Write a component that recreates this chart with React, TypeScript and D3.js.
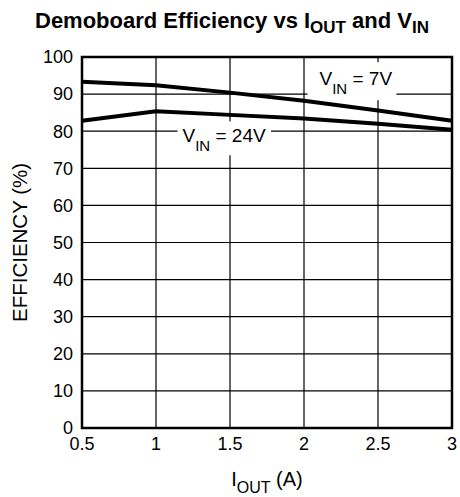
import { useEffect, useRef } from "react";
import * as d3 from "d3";

interface Point {
  iout: number
  eff: number
}

const ioutValues = [0.5, 1, 1.5, 2, 2.5, 3]
const eff7V = [93.3, 92.4, 90.4, 88.2, 85.6, 82.8]
const eff24V = [82.8, 85.4, 84.4, 83.4, 82.0, 80.4]
const xTicks = [0.5, 1, 1.5, 2, 2.5, 3]
const yTicks = [0, 10, 20, 30, 40, 50, 60, 70, 80, 90, 100]

// label anchors in data coordinates
const label7V = { x: 2.35, y: 92.4 }
const label24V = { x: 1.46, y: 77 }

const font = "'Liberation Sans', Arial, Helvetica, sans-serif"

export default function App() {
  const svgRef = useRef<SVGSVGElement>(null);

  useEffect(() => {
    const width = 460
    const height = 497
    const margin = { top: 57, right: 8, bottom: 69, left: 82 }
    const w = width - margin.left - margin.right
    const h = height - margin.top - margin.bottom

    const svg = d3.select(svgRef.current)
      .attr("width", width)
      .attr("height", height)
      .html(null)

    svg.append("rect").attr("width", width).attr("height", height).attr("fill", "#fff")

    svg.append("text")
      .attr("x", 232)
      .attr("y", 28)
      .attr("text-anchor", "middle")
      .style("font-family", font)
      .style("font-weight", "bold")
      .style("font-size", "22px")
      .call(t => {
        t.append("tspan").text("Demoboard Efficiency vs I")
        t.append("tspan").attr("dy", 5).style("font-size", "17px").text("OUT")
        t.append("tspan").attr("dy", -5).text(" and V")
        t.append("tspan").attr("dy", 5).style("font-size", "17px").text("IN")
      })

    const g = svg.append("g").attr("transform", `translate(${margin.left},${margin.top})`)

    const x = d3.scaleLinear().domain([0.5, 3]).range([0, w])
    const y = d3.scaleLinear().domain([0, 100]).range([h, 0])

    // grid
    g.append("g")
      .selectAll("line")
      .data(yTicks.slice(1, -1))
      .join("line")
      .attr("x1", 0).attr("x2", w)
      .attr("y1", d => y(d)).attr("y2", d => y(d))
      .attr("stroke", "#000").attr("stroke-width", 1.2)

    g.append("g")
      .selectAll("line")
      .data(xTicks.slice(1, -1))
      .join("line")
      .attr("y1", 0).attr("y2", h)
      .attr("x1", d => x(d)).attr("x2", d => x(d))
      .attr("stroke", "#000").attr("stroke-width", 1.2)

    // annotation boxes + text
    const addLabel = (pos: { x: number, y: number }, value: string, padL: number, padR: number, top: number, bottom: number) => {
      const box = g.append("rect").attr("fill", "#fff")
      const t = g.append("text")
        .attr("x", x(pos.x))
        .attr("y", y(pos.y))
        .attr("text-anchor", "middle")
        .style("font-family", font)
        .style("font-size", "19px")
      t.append("tspan").text("V")
      t.append("tspan").attr("dy", 9).style("font-size", "15px").text("IN")
      t.append("tspan").attr("dy", -9).text(` = ${value}`)
      const bb = (t.node() as SVGTextElement).getBBox()
      box.attr("x", bb.x - padL)
        .attr("width", bb.width + padL + padR)
        .attr("y", y(pos.y) - top)
        .attr("height", top + bottom)
    }
    addLabel(label7V, "7V", 12, 4, 23, 15)
    addLabel(label24V, "24V", 5, 5, 21, 13)

    const line = d3.line<Point>()
      .x(d => x(d.iout))
      .y(d => y(d.eff))

    const series = [eff7V, eff24V].map(vals => ioutValues.map((iout, i) => ({ iout, eff: vals[i] })))
    series.forEach(s => {
      g.append("path")
        .datum(s)
        .attr("fill", "none")
        .attr("stroke", "#000")
        .attr("stroke-width", 4)
        .attr("d", line)
    })

    // frame
    g.append("rect")
      .attr("width", w).attr("height", h)
      .attr("fill", "none")
      .attr("stroke", "#000")
      .attr("stroke-width", 2.5)

    // tick labels
    g.append("g")
      .selectAll("text")
      .data(yTicks)
      .join("text")
      .attr("x", -9)
      .attr("y", d => y(d))
      .attr("dy", "0.35em")
      .attr("text-anchor", "end")
      .style("font-family", font)
      .style("font-size", "18px")
      .text(d => d)

    g.append("g")
      .selectAll("text")
      .data(xTicks)
      .join("text")
      .attr("x", d => x(d))
      .attr("y", h + 22)
      .attr("text-anchor", "middle")
      .style("font-family", font)
      .style("font-size", "18px")
      .text(d => d)

    // axis titles
    svg.append("text")
      .attr("x", margin.left + w / 2)
      .attr("y", 486)
      .attr("text-anchor", "middle")
      .style("font-family", font)
      .style("font-size", "20px")
      .call(t => {
        t.append("tspan").text("I")
        t.append("tspan").attr("dy", 7).style("font-size", "16px").text("OUT")
        t.append("tspan").attr("dy", -7).text(" (A)")
      })

    svg.append("text")
      .attr("transform", `translate(27,${margin.top + h / 2}) rotate(-90)`)
      .attr("text-anchor", "middle")
      .style("font-family", font)
      .style("font-size", "20.5px")
      .text("EFFICIENCY (%)")
  }, []);

  return (
    <svg ref={svgRef} style={{ position: "absolute", left: 0, top: 0 }}></svg>
  );
}
